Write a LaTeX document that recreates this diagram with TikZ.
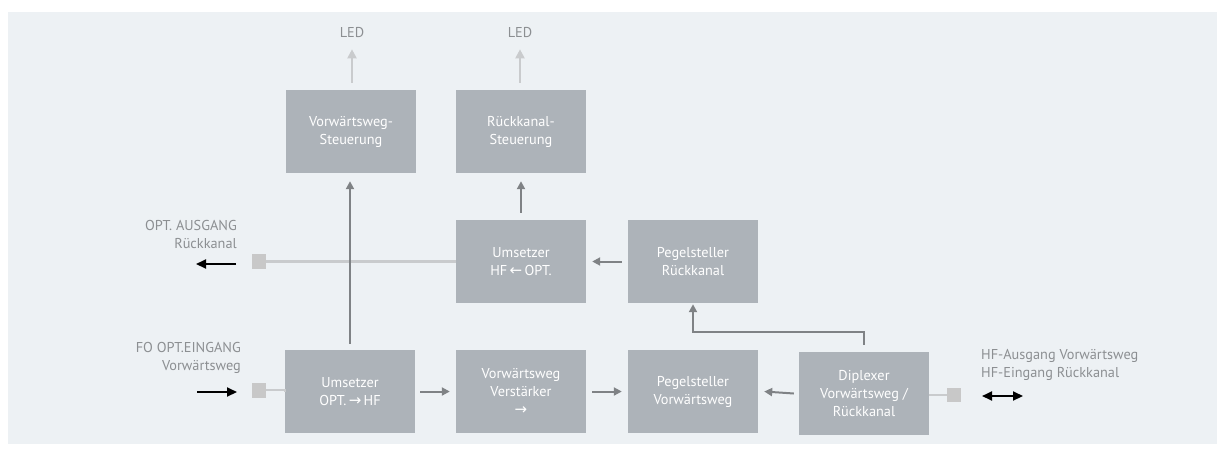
\documentclass[tikz,border=0pt]{standalone}
\usepackage{fontspec}
\setmainfont{PT Sans}
\newfontfamily\symf{DejaVu Sans}
\usetikzlibrary{arrows.meta}
\definecolor{bgc}{HTML}{EDF1F4}
\definecolor{boxc}{HTML}{ADB3B9}
\definecolor{darkl}{HTML}{7F8285}
\definecolor{lightl}{HTML}{C9CBCD}
\definecolor{sqc}{HTML}{C8C8C8}
\definecolor{txtc}{HTML}{8C8F92}
\newcommand{\rarr}{{\symf\fontsize{15}{18}\selectfont →}}
\newcommand{\larr}{{\symf\fontsize{15}{18}\selectfont ←}}
\begin{document}
\begin{tikzpicture}[x=1pt,y=-1pt,
  blk/.style={fill=boxc, minimum width=130pt, minimum height=83pt, inner sep=0pt,
    text=white, align=center, font=\fontsize{14.3}{18}\selectfont},
  sqr/.style={fill=sqc, minimum width=14pt, minimum height=15pt, inner sep=0pt},
  lbl/.style={text=txtc, inner sep=0pt, font=\fontsize{14.3}{18}\selectfont},
  darr/.style={draw=darkl, line width=2pt, -{Triangle[length=8pt,width=8pt]}},
  larr/.style={draw=lightl, line width=2pt, -{Triangle[length=9pt,width=9pt]}},
  lline/.style={draw=lightl, line width=2.5pt},
  barr/.style={draw=black, line width=2pt, -{Triangle[length=10pt,width=9pt]}},
  bdarr/.style={draw=black, line width=2pt, {Triangle[length=10pt,width=9pt]}-{Triangle[length=10pt,width=9pt]}}
]
\useasboundingbox (0,0) rectangle (1217,453);
\fill[bgc] (8,12) rectangle (1217,444);

% blocks
\node[blk] (vs)  at (351,131.5) {Vorwärtsweg-\\Steuerung};
\node[blk] (rs)  at (521,131.5) {Rückkanal-\\Steuerung};
\node[blk] (uho) at (521,261.5) {Umsetzer\\HF\,\larr\,OPT.};
\node[blk] (pr)  at (693,261.5) {Pegelsteller\\Rückkanal};
\node[blk] (uoh) at (350,391.5) {Umsetzer\\OPT.\,\rarr\,HF};
\node[blk] (vv)  at (521,391.5) {Vorwärtsweg\\Verstärker\\\rarr};
\node[blk] (pv)  at (693,391.5) {Pegelsteller\\Vorwärtsweg};
\node[blk] (dip) at (864,393.5) {Diplexer\\Vorwärtsweg /\\Rückkanal};

% squares
\node[sqr] (sqa) at (259,261.5) {};
\node[sqr] (sqb) at (259,390) {};
\node[sqr, minimum height=14pt] (sqc) at (954,395) {};

% labels
\node[lbl] (led1) at (352,32) {LED};
\node[lbl] (led2) at (520,32) {LED};
\node[lbl, anchor=east, align=right] (la) at (237,234) {OPT. AUSGANG\\Rückkanal};
\node[lbl, anchor=east, align=right] (lb) at (241,358) {FO OPT.EINGANG\\Vorwärtsweg};
\node[lbl, anchor=west, align=left] (lc) at (981,364.5) {HF-Ausgang Vorwärtsweg\\HF-Eingang Rückkanal};

% free ends
\coordinate (oa1) at (236,264);
\coordinate (oa2) at (196,264);
\coordinate (ib1) at (197,392);
\coordinate (ib2) at (237,392);
\coordinate (hc1) at (982,396);
\coordinate (hc2) at (1023,396);

% light connectors
\draw[lline] (uho.west) -- (sqa.east);
\draw[lline] (uoh.west) |- (sqb.east);
\draw[lline] (dip.east |- sqc) -- (sqc.west);
\draw[larr] ([yshift=7pt]vs.north -| led1) -- ([yshift=-12pt]led1.south);
\draw[larr] ([yshift=7pt]rs.north -| led2) -- ([yshift=-12pt]led2.south);

% dark connectors
\draw[darr] ([yshift=6pt]uoh.north) -- ([yshift=-8pt]vs.south -| uoh);
\draw[darr] ([yshift=7pt]uho.north) -- ([yshift=-8pt]rs.south);
\draw[darr] ([xshift=-6pt]pr.west) -- ([xshift=6pt]uho.east);
\draw[darr] ([yshift=7pt]dip.north) -- ++(0,-13) -| ([yshift=-1pt]pr.south);
\draw[darr] ([xshift=5pt]uoh.east) -- ([xshift=-6pt]vv.west);
\draw[darr] ([xshift=6pt]vv.east) -- ([xshift=-6pt]pv.west);
\draw[darr] ([xshift=-5pt]dip.west) -- ([xshift=6pt]pv.east);

% black arrows
\draw[barr] (oa1) -- (oa2);
\draw[barr] (ib1) -- (ib2);
\draw[bdarr] (hc1) -- (hc2);
\end{tikzpicture}
\end{document}
